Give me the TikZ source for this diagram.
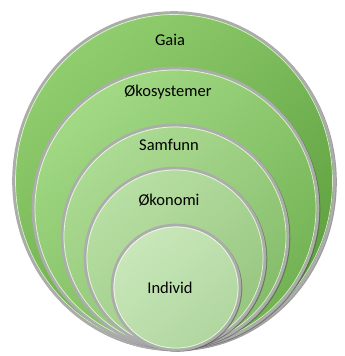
\documentclass[tikz,border=0pt]{standalone}
\usepackage{fontspec}
\setmainfont{Carlito}
\definecolor{gaiaT}{HTML}{90CD6E}
\definecolor{gaiaB}{HTML}{5E9F3E}
\definecolor{okosysT}{HTML}{A2D985}
\definecolor{okosysB}{HTML}{72B253}
\definecolor{samfT}{HTML}{ACDB93}
\definecolor{samfB}{HTML}{84BC69}
\definecolor{okonT}{HTML}{B8DFA4}
\definecolor{okonB}{HTML}{97C680}
\definecolor{indT}{HTML}{C9E7BA}
\definecolor{indB}{HTML}{B0D69F}

\begin{document}
\begin{tikzpicture}[x=1pt,y=-1pt]
    \tikzset{
      rim/.style={draw=gray!65, line width=2.6pt},
      glint/.style={draw=white, line width=0.7pt, opacity=0.75},
      shadow/.style={draw=black!70, line width=1.6pt, opacity=0.55},
      lbl/.style={font=\fontsize{16.5}{20}\selectfont, text=black}
    }
    \useasboundingbox[fill=white] (0,0) rectangle (345,356);

    % Gaia
    \draw[shadow] (175.5,182) ellipse (160.5 and 168.5);
    \shade[top color=gaiaT, bottom color=gaiaB, shading angle=40] (174,181) ellipse (160.5 and 168.5);
    \draw[rim] (174,181) ellipse (160.5 and 168.5);
    \draw[glint] (174,181) ellipse (158.5 and 166.5);

    % Okosystemer
    \draw[shadow] (177,209) ellipse (142.5 and 140);
    \shade[top color=okosysT, bottom color=okosysB, shading angle=40] (175.5,208) ellipse (142.5 and 140);
    \draw[rim] (175.5,208) ellipse (142.5 and 140);
    \draw[glint] (175.5,208) ellipse (140.5 and 138);

    % Samfunn
    \draw[shadow] (176.5,237.5) ellipse (113 and 111.5);
    \shade[top color=samfT, bottom color=samfB, shading angle=40] (175,236.5) ellipse (113 and 111.5);
    \draw[rim] (175,236.5) ellipse (113 and 111.5);
    \draw[glint] (175,236.5) ellipse (111 and 109.5);

    % Okonomi
    \draw[shadow] (176.5,259) ellipse (90 and 90);
    \shade[top color=okonT, bottom color=okonB, shading angle=40] (175,258) ellipse (90 and 90);
    \draw[rim] (175,258) ellipse (90 and 90);
    \draw[glint] (175,258) ellipse (88 and 88);

    % Individ
    \draw[shadow] (177.5,288.5) ellipse (64 and 62.5);
    \shade[top color=indT, bottom color=indB, shading angle=40] (176,287.5) ellipse (64 and 62.5);
    \draw[rim] (176,287.5) ellipse (64 and 62.5);
    \draw[glint] (176,287.5) ellipse (62 and 60.5);

    \node[lbl] (gaia) at (170,40) {Gaia};
    \node[lbl] (okosys) at (168,92) {Økosystemer};
    \node[lbl] (samf) at (169,145) {Samfunn};
    \node[lbl] (okon) at (169,200) {Økonomi};
    \node[lbl] (indiv) at (170,288) {Individ};
\end{tikzpicture}
\end{document}
